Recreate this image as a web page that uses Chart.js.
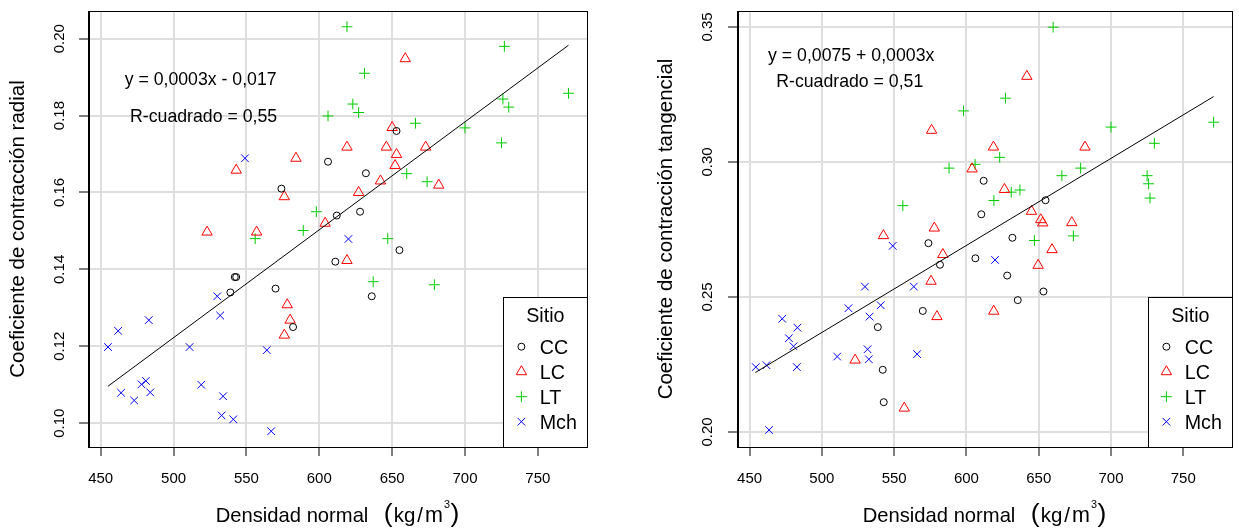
<!DOCTYPE html>
<html lang="es"><head><meta charset="utf-8"><title>Coeficientes de contracción vs densidad normal</title>
<script src="https://cdn.jsdelivr.net/npm/chart.js@4/dist/chart.umd.min.js"></script>
<style>
html,body{margin:0;padding:0;background:#fff;}
body{width:1239px;height:531px;position:relative;overflow:hidden}
canvas{position:absolute;top:0}
#c1{left:0}
#c2{left:620px}
</style></head><body>
<canvas id="c1" width="620" height="531"></canvas>
<canvas id="c2" width="619" height="531"></canvas>
<script>
const FONT = '"Liberation Sans", Arial, Helvetica, sans-serif';
Chart.defaults.font.family = FONT;
Chart.defaults.color = '#000';

// ---- categories / ticks ----
const SITIOS = ['CC', 'LC', 'LT', 'Mch'];
const X_TICKS = [450, 500, 550, 600, 650, 700, 750];
const Y_TICKS_RAD = [0.10, 0.12, 0.14, 0.16, 0.18, 0.20];
const Y_TICKS_TAN = [0.20, 0.25, 0.30, 0.35];
const X_RANGE = [441.3, 783.7];
const Y_RANGE_RAD = [0.0938, 0.2072];
const Y_RANGE_TAN = [0.1944, 0.3559];

// ---- radial contraction ----
const CC_RAD_X = [539, 542, 543, 570, 574, 582, 606, 611, 612, 628, 632, 636, 653, 655];
const CC_RAD_Y = [0.134, 0.138, 0.138, 0.135, 0.161, 0.125, 0.168, 0.142, 0.154, 0.155, 0.165, 0.133, 0.176, 0.145];
const LC_RAD_X = [523, 543, 557, 576, 576, 578, 580, 584, 604, 619, 619, 627, 642, 646, 650, 652, 653, 659, 673, 682];
const LC_RAD_Y = [0.1497, 0.1658, 0.1497, 0.1589, 0.1229, 0.1308, 0.1268, 0.1689, 0.1520, 0.1718, 0.1423, 0.1600, 0.1630, 0.1718, 0.1769, 0.1670, 0.1699, 0.1948, 0.1718, 0.1619];
const LT_RAD_X = [556, 589, 598, 606, 619, 623, 627, 631, 637, 647, 660, 666, 674, 679, 700, 725, 726, 727, 730, 771];
const LT_RAD_Y = [0.1480, 0.1501, 0.1550, 0.1799, 0.2031, 0.1830, 0.1808, 0.1910, 0.1368, 0.1480, 0.1649, 0.1780, 0.1628, 0.1360, 0.1768, 0.1729, 0.1843, 0.1980, 0.1822, 0.1858];
const MCH_RAD_X = [455, 462, 464, 473, 478, 481, 483, 484, 511, 519, 530, 532, 533, 534, 541, 549, 564, 567, 620];
const MCH_RAD_Y = [0.1198, 0.1240, 0.1079, 0.1059, 0.1101, 0.1110, 0.1268, 0.1080, 0.1198, 0.1100, 0.1330, 0.1280, 0.1020, 0.1070, 0.1010, 0.1689, 0.1190, 0.0979, 0.1479];
const FIT_RAD_X = [455, 771];
const FIT_RAD_Y = [0.1096, 0.1983];
const EQ_RAD_TEXT = ['y = 0,0003x - 0,017', 'R-cuadrado = 0,55'];
const EQ_RAD_X = [518.6, 520.6];
const EQ_RAD_Y = [0.1893, 0.1796];

// ---- tangential contraction ----
const CC_TAN_X = [538.7, 542.1, 542.8, 569.8, 573.7, 581.7, 606.2, 610.3, 611.9, 628.2, 631.8, 635.5, 653.3, 654.7];
const CC_TAN_Y = [0.2388, 0.2230, 0.2110, 0.2448, 0.2699, 0.2619, 0.2643, 0.2806, 0.2930, 0.2579, 0.2719, 0.2488, 0.2520, 0.2858];
const LC_TAN_X = [523, 542.6, 557, 575.5, 575.9, 577.8, 579.6, 583.7, 603.9, 618.7, 618.9, 626.3, 641.8, 645, 649.6, 651.4, 652.8, 659.2, 672.9, 682];
const LC_TAN_Y = [0.2266, 0.2727, 0.2088, 0.2558, 0.3117, 0.2755, 0.2427, 0.2657, 0.2974, 0.3055, 0.2447, 0.2898, 0.3317, 0.2817, 0.2617, 0.2786, 0.2774, 0.2675, 0.2775, 0.3055];
const LT_TAN_X = [556, 588, 598, 606, 619, 623, 627, 631, 637, 647, 660, 666, 674, 679, 700, 725, 726, 727, 730, 771];
const LT_TAN_Y = [0.2838, 0.2977, 0.3189, 0.2991, 0.2857, 0.3017, 0.3236, 0.2888, 0.2896, 0.2709, 0.3499, 0.2949, 0.2726, 0.2977, 0.3129, 0.2949, 0.2919, 0.2866, 0.3069, 0.3147];
const MCH_TAN_X = [454.3, 461.7, 463.5, 472.6, 477.2, 480.4, 482.7, 483.1, 510.6, 518.4, 529.8, 531.6, 532.5, 533, 540.7, 549, 563.6, 565.9, 619.8];
const MCH_TAN_Y = [0.2240, 0.2247, 0.2007, 0.2419, 0.2347, 0.2317, 0.2240, 0.2386, 0.2279, 0.2458, 0.2538, 0.2306, 0.2269, 0.2427, 0.2469, 0.2689, 0.2538, 0.2288, 0.2637];
const FIT_TAN_X = [454, 771];
const FIT_TAN_Y = [0.2220, 0.3242];
const EQ_TAN_TEXT = ['y = 0,0075 + 0,0003x', 'R-cuadrado = 0,51'];
const EQ_TAN_X = [520.3, 519.3];
const EQ_TAN_Y = [0.3393, 0.3296];

// ---- styles ----
const STYLES = [
  {pointStyle: 'circle', radius: 3.5, color: '#000000'},
  {pointStyle: 'triangle', radius: 6, color: '#FF0000'},
  {pointStyle: 'cross', radius: 5.4, color: '#00CD00'},
  {pointStyle: 'crossRot', radius: 5.4, color: '#0000FF'}
];
const GRID = '#dedede';

function pts(xs, ys) { return xs.map((x, i) => ({x: x, y: ys[i]})); }

function drawSymbol(ctx, st, x, y) {
  const r = st.radius;
  ctx.save();
  ctx.strokeStyle = st.color; ctx.lineWidth = 1;
  ctx.beginPath();
  if (st.pointStyle === 'circle') {
    ctx.arc(x, y, r, 0, Math.PI * 2);
  } else if (st.pointStyle === 'triangle') {
    let a = 0;
    ctx.moveTo(x + Math.sin(a) * r, y - Math.cos(a) * r);
    a += 2 * Math.PI / 3; ctx.lineTo(x + Math.sin(a) * r, y - Math.cos(a) * r);
    a += 2 * Math.PI / 3; ctx.lineTo(x + Math.sin(a) * r, y - Math.cos(a) * r);
    ctx.closePath();
  } else {
    const a = st.pointStyle === 'crossRot' ? Math.PI / 4 : 0;
    const xo = Math.cos(a) * r, yo = Math.sin(a) * r;
    ctx.moveTo(x - xo, y - yo); ctx.lineTo(x + xo, y + yo);
    ctx.moveTo(x + yo, y - xo); ctx.lineTo(x - yo, y + xo);
  }
  ctx.stroke();
  ctx.restore();
}

function drawXTitle(ctx, a) {
  const base = a.bottom + 74.7;
  const parts = [
    {t: 'Densidad normal', s: 20.2, dy: 0, gap: 15.5},
    {t: '(', s: 26.5, dy: 0, gap: 1},
    {t: 'kg', s: 20.5, dy: 0, gap: 2},
    {t: '/', s: 20.5, dy: 0, gap: 2},
    {t: 'm', s: 21.5, dy: 0, gap: 1},
    {t: '3', s: 10.8, dy: -13.4, gap: 0.5},
    {t: ')', s: 26.5, dy: 0, gap: 0}
  ];
  let total = 0;
  parts.forEach(p => { ctx.font = p.s + 'px ' + FONT; p.w = ctx.measureText(p.t).width; total += p.w + p.gap; });
  let x = (a.left + a.right) / 2 - total / 2;
  ctx.fillStyle = '#000'; ctx.textAlign = 'left'; ctx.textBaseline = 'alphabetic';
  parts.forEach(p => { ctx.font = p.s + 'px ' + FONT; ctx.fillText(p.t, x, base + p.dy); x += p.w + p.gap; });
}

function decor(eqText, eqX, eqY) {
  return {
    id: 'decor',
    afterDraw(chart) {
      const ctx = chart.ctx, a = chart.chartArea, sx = chart.scales.x, sy = chart.scales.y;
      ctx.save();
      // equation text
      ctx.font = '17.7px ' + FONT;
      ctx.fillStyle = '#000'; ctx.textAlign = 'center'; ctx.textBaseline = 'middle';
      eqText.forEach((t, i) => ctx.fillText(t, sx.getPixelForValue(eqX[i]), sy.getPixelForValue(eqY[i])));
      // plot box
      ctx.strokeStyle = '#000'; ctx.lineWidth = 1;
      ctx.strokeRect(Math.round(a.left) + 0.5, Math.round(a.top) + 0.5, Math.round(a.right - a.left), Math.round(a.bottom - a.top));
      ctx.beginPath(); ctx.moveTo(Math.round(a.left) + 1.5, a.top); ctx.lineTo(Math.round(a.left) + 1.5, a.bottom + 1); ctx.stroke();
      // legend
      const bw = 84, bh = 150;
      const bx = Math.round(a.right) - bw, by = Math.round(a.bottom) - bh;
      ctx.fillStyle = '#fff'; ctx.fillRect(bx, by, bw, bh);
      ctx.strokeRect(bx + 0.5, by + 0.5, bw, bh);
      ctx.fillStyle = '#000';
      ctx.font = '19.7px ' + FONT; ctx.textAlign = 'center'; ctx.textBaseline = 'middle';
      ctx.fillText('Sitio', bx + 42.3, by + 20);
      ctx.textAlign = 'left';
      SITIOS.forEach((s, i) => {
        drawSymbol(ctx, STYLES[i], bx + 18.4, by + 49.7 + 25 * i);
        ctx.fillText(s, bx + 36.7, by + 51.3 + 25 * i);
      });
      // x title
      drawXTitle(ctx, a);
      ctx.restore();
    }
  };
}

function makeChart(id, cfg) {
  const ds = [
    {type: 'line', label: 'ajuste', data: pts(cfg.fitX, cfg.fitY), borderColor: '#000', borderWidth: 1,
     pointRadius: 0, fill: false, tension: 0}
  ];
  cfg.series.forEach((s, i) => {
    const st = STYLES[i];
    ds.push({type: 'scatter', label: SITIOS[i], data: pts(s[0], s[1]), pointStyle: st.pointStyle,
      pointRadius: st.radius, borderColor: st.color, backgroundColor: 'rgba(0,0,0,0)', pointBorderWidth: 1, borderWidth: 1});
  });
  const gridOpts = {color: GRID, lineWidth: 2, drawTicks: true, tickLength: 9, tickColor: '#000', tickWidth: 1};
  return new Chart(document.getElementById(id), {
    type: 'scatter',
    data: {datasets: ds},
    options: {
      responsive: false, animation: false, devicePixelRatio: 1, events: [],
      layout: {padding: {left: 0, top: 11, right: cfg.padRight, bottom: 0}},
      plugins: {legend: {display: false}, tooltip: {enabled: false}},
      scales: {
        x: {
          type: 'linear', position: 'bottom', min: X_RANGE[0], max: X_RANGE[1],
          afterBuildTicks: s => { s.ticks = X_TICKS.map(v => ({value: v})); },
          afterFit: s => { s.height = 84; s.paddingLeft = 0; s.paddingRight = 0; },
          grid: gridOpts, border: {display: false},
          ticks: {font: {size: 15}, padding: 14, minRotation: 0, maxRotation: 0, autoSkip: false, callback: v => String(v)},
          title: {display: false}
        },
        y: {
          type: 'linear', position: 'left', min: cfg.yRange[0], max: cfg.yRange[1],
          afterBuildTicks: s => { s.ticks = cfg.yTicks.map(v => ({value: v})); },
          afterFit: s => { s.width = cfg.yWidth; s.paddingTop = 0; s.paddingBottom = 0; },
          grid: gridOpts, border: {display: false},
          ticks: {font: {size: 15}, padding: cfg.tickPad, minRotation: 90, maxRotation: 90, crossAlign: 'center', autoSkip: false,
                  callback: v => Number(v).toFixed(2)},
          title: {display: true, text: cfg.yTitle, font: {size: 20.5}, padding: {top: cfg.titlePad, bottom: 0}}
        }
      }
    },
    plugins: [decor(cfg.eqText, cfg.eqX, cfg.eqY)]
  });
}

makeChart('c1', {
  series: [[CC_RAD_X, CC_RAD_Y], [LC_RAD_X, LC_RAD_Y], [LT_RAD_X, LT_RAD_Y], [MCH_RAD_X, MCH_RAD_Y]],
  fitX: FIT_RAD_X, fitY: FIT_RAD_Y, yRange: Y_RANGE_RAD, yTicks: Y_TICKS_RAD,
  yTitle: 'Coeficiente de contracción radial', yWidth: 88, padRight: 33, tickPad: 4.5, titlePad: 5.6,
  eqText: EQ_RAD_TEXT, eqX: EQ_RAD_X, eqY: EQ_RAD_Y
});
makeChart('c2', {
  series: [[CC_TAN_X, CC_TAN_Y], [LC_TAN_X, LC_TAN_Y], [LT_TAN_X, LT_TAN_Y], [MCH_TAN_X, MCH_TAN_Y]],
  fitX: FIT_TAN_X, fitY: FIT_TAN_Y, yRange: Y_RANGE_TAN, yTicks: Y_TICKS_TAN,
  yTitle: 'Coeficiente de contracción tangencial', yWidth: 117, padRight: 3, tickPad: 5.5, titlePad: 33.9,
  eqText: EQ_TAN_TEXT, eqX: EQ_TAN_X, eqY: EQ_TAN_Y
});
</script></body></html>
